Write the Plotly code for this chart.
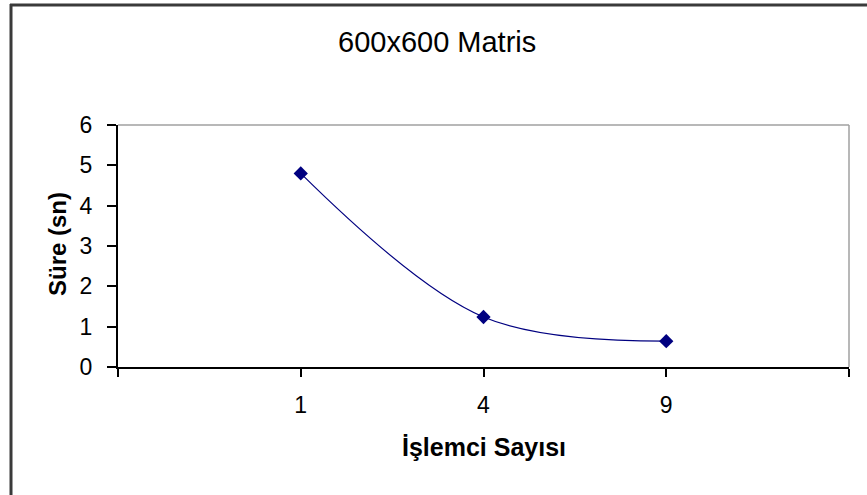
import plotly.graph_objects as go

categories = ["1", "4", "9"]
positions = [1, 2, 3]
sure = [4.8, 1.24, 0.64]

title_text = "600x600 Matris"
x_title = "İşlemci Sayısı"
y_title = "Süre (sn)"

fig = go.Figure()
fig.add_trace(go.Scatter(
    x=positions, y=sure, mode="lines+markers",
    line=dict(color="#000080", width=1.2, shape="spline", smoothing=1.0),
    marker=dict(symbol="diamond", size=11, color="#000080"),
    showlegend=False, cliponaxis=False,
))

W, H = 867, 495
L, R, T, B = 118, 18, 125, 128
pw, ph = W - L - R, H - T - B

def px(x):
    return (x - L) / pw

def py(y):
    return (H - B - y) / ph

shapes = [
    dict(type="line", xref="paper", yref="paper", x0=px(11), x1=px(11), y0=py(4), y1=py(520),
         line=dict(color="#3a3a3a", width=3)),
    dict(type="line", xref="paper", yref="paper", x0=px(10), x1=px(900), y0=py(5), y1=py(5),
         line=dict(color="#3a3a3a", width=3)),
    dict(type="line", xref="paper", yref="paper", x0=0, x1=1, y0=1, y1=1,
         line=dict(color="#a0a0a0", width=1.5)),
    dict(type="line", xref="paper", yref="paper", x0=1, x1=1, y0=0, y1=1,
         line=dict(color="#a0a0a0", width=1.5)),
]

ff = "Liberation Sans, Arial, sans-serif"
annotations = [
    dict(text=title_text, xref="paper", yref="paper", x=px(437), y=py(42),
         xanchor="center", yanchor="middle", showarrow=False,
         font=dict(family=ff, size=29, color="black")),
    dict(text="<b>" + x_title + "</b>", xref="paper", yref="paper", x=px(484), y=py(447),
         xanchor="center", yanchor="middle", showarrow=False,
         font=dict(family=ff, size=25, color="black")),
    dict(text="<b>" + y_title + "</b>", xref="paper", yref="paper", x=px(57), y=py(244),
         xanchor="center", yanchor="middle", showarrow=False, textangle=-90,
         font=dict(family=ff, size=24, color="black")),
]

fig.update_layout(
    width=W, height=H,
    margin=dict(l=L, r=R, t=T, b=B),
    paper_bgcolor="white", plot_bgcolor="white",
    font=dict(family=ff, color="black"),
    shapes=shapes, annotations=annotations,
    xaxis=dict(
        range=[0, 4], tickvals=[0] + positions + [4], ticktext=[""] + categories + [""],
        showgrid=False, zeroline=False, showline=True, linecolor="black", linewidth=2,
        ticks="outside", ticklen=8, tickcolor="black", tickwidth=2,
        tickfont=dict(size=23, family=ff), ticklabelstandoff=8,
    ),
    yaxis=dict(
        range=[0, 6], tickvals=[0, 1, 2, 3, 4, 5, 6],
        showgrid=False, zeroline=False, showline=True, linecolor="black", linewidth=2,
        ticks="outside", ticklen=9, tickcolor="black", tickwidth=2,
        tickfont=dict(size=23, family=ff), ticklabelstandoff=10,
    ),
)

fig.write_html("out.html")
